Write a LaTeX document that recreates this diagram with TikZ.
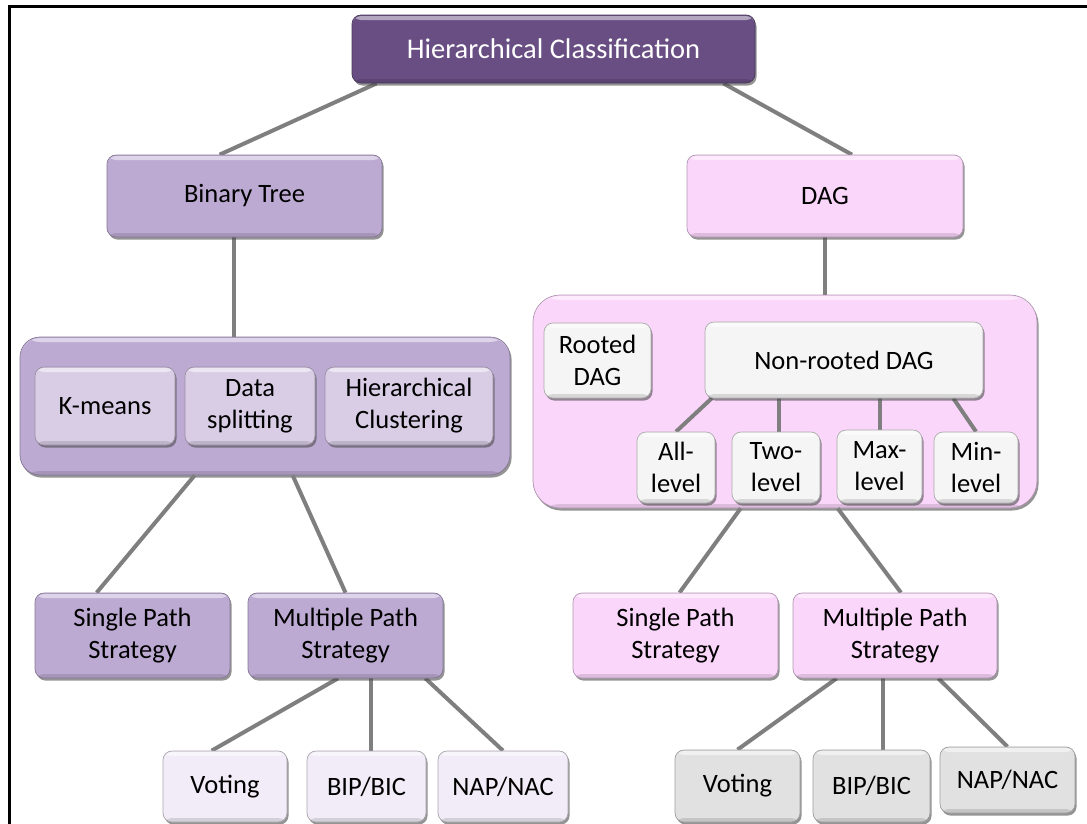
\documentclass[tikz,border=0pt]{standalone}
\usepackage{fontspec}
\setmainfont{Carlito}
\usetikzlibrary{shadows,calc}

\definecolor{rootfill}{HTML}{684E82}
\definecolor{lilac}{HTML}{BDAAD3}
\definecolor{lilaclight}{HTML}{D9CDE6}
\definecolor{lilacpale}{HTML}{F1ECF7}
\definecolor{pinkfill}{HTML}{FBD6FB}
\definecolor{offwhite}{HTML}{F5F5F5}
\definecolor{greyfill}{HTML}{E1E1E1}
\definecolor{linkgray}{HTML}{7F7F7F}

\pgfdeclarelayer{panel}
\pgfdeclarelayer{wire}
\pgfsetlayers{panel,wire,main}

\tikzset{
  box/.style={rounded corners=9pt, draw=#1!70!black, line width=0.7pt, fill=#1,
    inner sep=2pt, align=center, font=\fontsize{26.5}{32}\selectfont,
    drop shadow={shadow xshift=1.6pt, shadow yshift=-2.6pt, opacity=0.6, fill=black!70},
    path picture={\fill[white,opacity=0.5]
      ([yshift=-1pt]path picture bounding box.north west) rectangle
      ([yshift=-5pt]path picture bounding box.north east);
      \fill[black,opacity=0.12]
      ([yshift=4pt]path picture bounding box.south west) rectangle
      (path picture bounding box.south east);}},
  wh/.style 2 args={minimum width=#1pt, minimum height=#2pt},
  link/.style={draw=linkgray, line width=4pt},
}

\begin{document}
\begin{tikzpicture}[x=1pt,y=-1pt]
\useasboundingbox (0,0) rectangle (1087,823);

% outer frame
\draw[line width=3pt] (9,840) -- (9,6.5) -- (1100,6.5);

% grouping panels
\begin{pgfonlayer}{panel}
  \node[box=lilac, wh={490}{138}, rounded corners=20pt] (grpL) at (265,406) {};
  \node[box=pinkfill, wh={504}{213}, rounded corners=27pt] (grpR) at (785,401.5) {};
\end{pgfonlayer}

% root
\node[box=rootfill, wh={403}{68}, text=white, font=\fontsize{28.5}{34}\selectfont] (root) at (553.5,49) {Hierarchical Classification};

% first level
\node[box=lilac, wh={275}{82}] (bt) at (244.5,196) {Binary Tree};
\node[box=pinkfill, wh={276}{82}] (dag) at (825,196) {DAG};

% binary tree methods
\node[box=lilaclight, wh={140}{78}] (km) at (105,406) {K-means};
\node[box=lilaclight, wh={130}{78}] (ds) at (250,406) {Data\\splitting};
\node[box=lilaclight, wh={168}{78}] (hc) at (409,406) {Hierarchical\\Clustering};

% DAG kinds
\node[box=offwhite, wh={107}{75}] (rd) at (597.5,360.5) {Rooted\\DAG};
\node[box=offwhite, wh={278}{76}] (nr) at (844,360) {Non-rooted DAG};
\node[box=offwhite, wh={78}{71}] (all) at (676,467.5) {All-\\level};
\node[box=offwhite, wh={88}{71}] (two) at (776,467.5) {Two-\\level};
\node[box=offwhite, wh={85}{73}] (max) at (879.5,466.5) {Max-\\level};
\node[box=offwhite, wh={84}{71}] (min) at (976,467.5) {Min-\\level};

% strategies
\node[box=lilac, wh={195}{85}] (spl) at (132.5,635.5) {Single Path\\Strategy};
\node[box=lilac, wh={195}{85}] (mpl) at (345.5,635.5) {Multiple Path\\Strategy};
\node[box=pinkfill, wh={205}{85}] (spr) at (675.5,635.5) {Single Path\\Strategy};
\node[box=pinkfill, wh={204}{85}] (mpr) at (895,635.5) {Multiple Path\\Strategy};

% multiple path variants
\node[box=lilacpale, wh={124}{71}] (vl) at (225,786.5) {Voting};
\node[box=lilacpale, wh={119}{71}] (bl) at (366.5,786.5) {BIP/BIC};
\node[box=lilacpale, wh={130}{71}] (nl) at (503,786.5) {NAP/NAC};
\node[box=greyfill, wh={125}{72}] (vr) at (737.5,786) {Voting};
\node[box=greyfill, wh={117}{72}] (br) at (871.5,786) {BIP/BIC};
\node[box=greyfill, wh={135}{66}] (nrr) at (1007.5,780) {NAP/NAC};

% connectors
\begin{pgfonlayer}{wire}
  \draw[link] ([xshift=25pt]root.south west) -- ([xshift=113pt]bt.north west);
  \draw[link] ([xshift=-32pt]root.south east) -- ([xshift=27pt]dag.north);
  \draw[link] ([xshift=-11pt]bt.south) -- ([xshift=-11pt]bt.south |- grpL.north);
  \draw[link] (dag.south) -- (dag.south |- grpR.north);

  \draw[link] ([xshift=175pt]grpL.south west) -- ([xshift=62pt]spl.north west);
  \draw[link] ([xshift=273pt]grpL.south west) -- (mpl.north);

  \draw[link] ([xshift=7pt]nr.south west) -- (all.north);
  \draw[link] ([xshift=3pt]two.north) -- ([xshift=3pt]two.north |- nr.south);
  \draw[link] (max.north) -- (max.north |- nr.south);
  \draw[link] ([xshift=-30pt]nr.south east) -- (min.north);

  \draw[link] ([xshift=208pt]grpR.south west) -- ([xshift=4pt]spr.north);
  \draw[link] ([xshift=305pt]grpR.south west) -- ([xshift=6pt]mpr.north);

  \draw[link] ([xshift=-7.5pt]mpl.south) -- ([xshift=49pt]vl.north west);
  \draw[link] ([xshift=25.5pt]mpl.south) -- ([xshift=25.5pt]mpl.south |- bl.north);
  \draw[link] ([xshift=-18pt]mpl.south east) -- (nl.north);

  \draw[link] ([xshift=44pt]mpr.south west) -- (vr.north);
  \draw[link] ([xshift=11.5pt]br.north) -- ([xshift=11.5pt]br.north |- mpr.south);
  \draw[link] ([xshift=-59pt]mpr.south east) -- (nrr.north);
\end{pgfonlayer}
\end{tikzpicture}
\end{document}
